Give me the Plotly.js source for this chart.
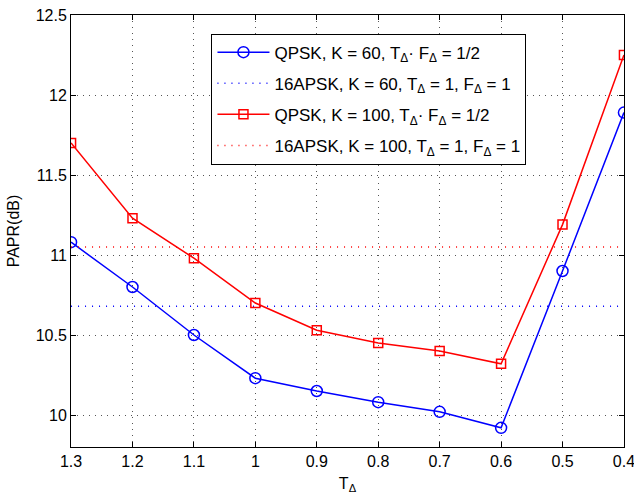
<!DOCTYPE html>
<html><head><meta charset="utf-8">
<script src="https://cdn.plot.ly/plotly-3.0.1.min.js"></script>
<style>body{margin:0;background:#fff}#c{width:634px;height:498px}</style>
</head><body><div id="c"></div>
<script>
const T = [1.3, 1.2, 1.1, 1.0, 0.9, 0.8, 0.7, 0.6, 0.5, 0.4];
const qpskK60 = [11.08, 10.80, 10.50, 10.23, 10.15, 10.08, 10.02, 9.92, 10.90, 11.89];
const qpskK100 = [11.70, 11.23, 10.98, 10.70, 10.53, 10.45, 10.40, 10.32, 11.19, 12.25];
const apskK60 = 10.68;
const apskK100 = 11.05;
const xTicks = [1.3, 1.2, 1.1, 1, 0.9, 0.8, 0.7, 0.6, 0.5, 0.4];
const yTicks = [10, 10.5, 11, 11.5, 12, 12.5];
const names = [
  'QPSK, K = 60, T<sub>Δ</sub>· F<sub>Δ</sub> = 1/2',
  '16APSK, K = 60, T<sub>Δ</sub> = 1, F<sub>Δ</sub> = 1',
  'QPSK, K = 100, T<sub>Δ</sub>· F<sub>Δ</sub> = 1/2',
  '16APSK, K = 100, T<sub>Δ</sub> = 1, F<sub>Δ</sub> = 1'
];
const traces = [
  {x: T, y: qpskK60, name: names[0], legendgroup: 'a', mode: 'lines+markers',
   line: {color: '#0000ff', width: 1.5},
   marker: {symbol: 'circle-open', size: 11, color: '#0000ff', line: {width: 1.5}}},
  {x: T, y: T.map(() => apskK60), name: names[1], legendgroup: 'b', mode: 'lines',
   line: {color: '#0000ff', width: 1.5, dash: '1px,6px'}},
  {x: T, y: qpskK100, name: names[2], legendgroup: 'c', mode: 'lines+markers',
   line: {color: '#ff0000', width: 1.5},
   marker: {symbol: 'square-open', size: 9, color: '#ff0000', line: {width: 1.5}}},
  {x: T, y: T.map(() => apskK100), name: names[3], legendgroup: 'd', mode: 'lines',
   line: {color: '#ff0000', width: 1.5, dash: '1px,6px'}}
];
const fnt = {family: 'Liberation Sans, Arial, sans-serif', size: 16, color: '#000'};
const layout = {
  width: 634, height: 498,
  margin: {l: 71, r: 10, t: 15, b: 51},
  paper_bgcolor: '#fff', plot_bgcolor: '#fff',
  font: fnt,
  showlegend: true,
  legend: {x: 0.254, y: 0.957, xanchor: 'left', yanchor: 'top',
    bgcolor: '#fff', bordercolor: '#000', borderwidth: 1,
    itemwidth: 52, tracegroupgap: 6, traceorder: 'grouped',
    font: {family: 'Liberation Sans, Arial, sans-serif', size: 17, color: '#000'}},
  xaxis: {range: [1.3001, 0.3999], tickvals: xTicks, ticktext: xTicks.map(String),
    ticklabeloverflow: 'allow',
    showgrid: true, gridcolor: '#555', griddash: '1px,5px', gridwidth: 1,
    zeroline: false, showline: true, linecolor: '#000', linewidth: 1, mirror: 'ticks',
    ticks: 'inside', ticklen: 5, tickcolor: '#000',
    title: {text: 'T<sub>Δ</sub>', font: fnt, standoff: 8}},
  yaxis: {range: [9.8, 12.5], tickvals: yTicks, ticktext: yTicks.map(String),
    showgrid: true, gridcolor: '#555', griddash: '1px,5px', gridwidth: 1,
    zeroline: false, showline: true, linecolor: '#000', linewidth: 1, mirror: 'ticks',
    ticks: 'inside', ticklen: 5, tickcolor: '#000',
    title: {text: 'PAPR(dB)', font: fnt, standoff: 12}}
};
Plotly.newPlot('c', traces, layout, {displayModeBar: false, staticPlot: true});
</script></body></html>
